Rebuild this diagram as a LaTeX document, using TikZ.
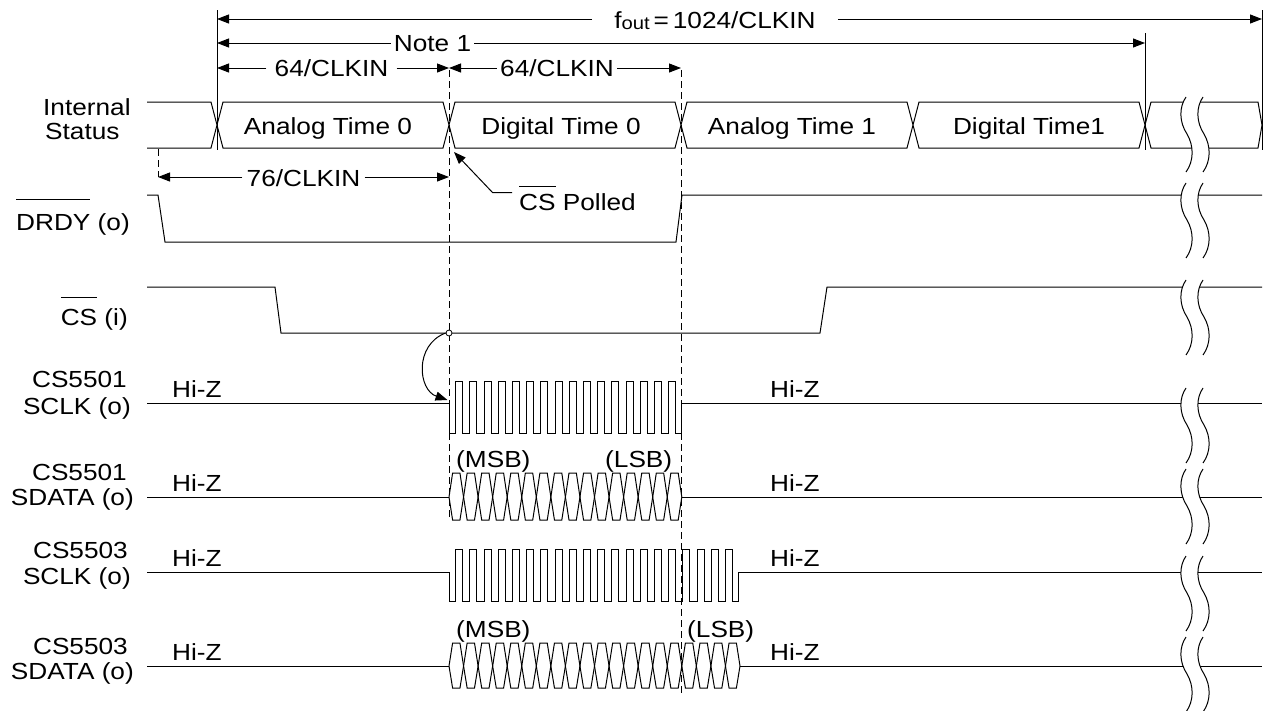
\documentclass[tikz,border=0pt]{standalone}
\usepackage{fontspec}
\setmainfont{Liberation Sans}[FakeStretch=1.125]
\usetikzlibrary{arrows.meta}
\newcommand\fs{\fontsize{23.3}{27}\selectfont}
\newlength\olw
\newcommand\myol[2]{\settowidth\olw{#2}\rlap{\rule[#1]{\olw}{1pt}}#2}
\newcommand\brk[1]{%
  \begin{scope}[shift={(1186,#1)}]
    \fill[white] (0,0) .. controls (-7,10) and (-7,25) .. (1,37) .. controls (8,49) and (8,64) .. (0,75)
      -- (17,75) .. controls (25,64) and (25,49) .. (18,37) .. controls (10,25) and (10,10) .. (17,0) -- cycle;
    \draw[sig] (0,0) .. controls (-7,10) and (-7,25) .. (1,37) .. controls (8,49) and (8,64) .. (0,75);
    \draw[sig] (17,0) .. controls (10,10) and (10,25) .. (18,37) .. controls (25,49) and (25,64) .. (17,75);
  \end{scope}}
\tikzset{
  sig/.style={line width=1pt, line join=miter},
  arr/.style={line width=1pt, -{Triangle[length=12pt,width=9pt]}},
  lbl/.style={font=\fs, inner sep=0pt},
  dsh/.style={line width=1pt, dash pattern=on 7pt off 4pt},
}
\begin{document}
\begin{tikzpicture}[x=1pt,y=-1pt]
\useasboundingbox (0,0) rectangle (1263,710);
% ---------- left labels
\node[lbl, anchor=base west] (l1a) at (43,115) {Internal};
\node[lbl, anchor=base west] (l1b) at (45,139) {Status};
\node[lbl, anchor=base east] (l2) at (130,230) {\myol{30pt}{DRDY} (o)};
\node[lbl, anchor=base east] (l3) at (128,325) {\myol{27pt}{CS} (i)};
\node[lbl, anchor=base east] (l4a) at (127,387) {CS5501};
\node[lbl, anchor=base east] (l4b) at (131,414) {SCLK (o)};
\node[lbl, anchor=base east] (l5a) at (127,480) {CS5501};
\node[lbl, anchor=base east] (l5b) at (134,505) {SDATA (o)};
\node[lbl, anchor=base east] (l6a) at (128,558) {CS5503};
\node[lbl, anchor=base east] (l6b) at (131,584) {SCLK (o)};
\node[lbl, anchor=base east] (l7a) at (128,654) {CS5503};
\node[lbl, anchor=base east] (l7b) at (134,679) {SDATA (o)};
% ---------- vertical reference lines
\draw[sig] (217,10) -- (217,150);
\draw[sig] (1145,33) -- (1145,150);
\draw[sig] (1262,10) -- (1262,150);
\draw[dsh] (449,70) -- (449,520);
\draw[dsh] (681,70) -- (681,693);
\draw[dsh] (158,149) -- (158,177);
% ---------- top dimension arrows
\coordinate (fa) at (217,19); \coordinate (fb) at (1262,19);
\node[lbl, anchor=base, inner xsep=22pt] (fo) at (715,28)
  {f\raisebox{-1.5pt}{\fontsize{18}{18}\selectfont out}\,=\,1024/CLKIN};
\draw[arr] (fo.west |- fa) -- (fa);
\draw[arr] (fo.east |- fb) -- (fb);
\coordinate (na) at (217,43); \coordinate (nb) at (1145,43);
\node[lbl, anchor=base, inner xsep=3pt] (n1) at (432.5,51.5) {Note 1};
\draw[arr] (n1.west |- na) -- (na);
\draw[arr] (n1.east |- nb) -- (nb);
\coordinate (aa) at (217,68); \coordinate (ab) at (449,68);
\node[lbl, anchor=base, inner xsep=8pt] (a1) at (331.5,76.5) {64/CLKIN};
\draw[arr] (a1.west |- aa) -- (aa);
\draw[arr] (a1.east |- ab) -- (ab);
\coordinate (ba) at (449,68); \coordinate (bb) at (681,68);
\node[lbl, anchor=base, inner xsep=3pt] (b1) at (557,76.5) {64/CLKIN};
\draw[arr] (b1.west |- ba) -- (ba);
\draw[arr] (b1.east |- bb) -- (bb);
\coordinate (ca) at (158,177); \coordinate (cb) at (449,177);
\node[lbl, anchor=base, inner xsep=4pt] (c1) at (303.5,186.5) {76/CLKIN};
\draw[arr] (c1.west |- ca) -- (ca);
\draw[arr] (c1.east |- cb) -- (cb);
% ---------- internal status bus
\draw[sig] (147,102) -- (211,102) -- (223,148) -- (443,148) -- (455,102) -- (675,102) -- (687,148)
  -- (907,148) -- (919,102) -- (1139,102) -- (1151,148) -- (1258,148) -- (1262,125) -- (1258,102)
  -- (1151,102) -- (1139,148) -- (919,148) -- (907,102) -- (687,102) -- (675,148) -- (455,148)
  -- (443,102) -- (223,102) -- (211,148) -- (147,148);
\node[lbl, anchor=base] (s1) at (328,134) {Analog Time 0};
\node[lbl, anchor=base] (s2) at (561,134) {Digital Time 0};
\node[lbl, anchor=base] (s3) at (792,134) {Analog Time 1};
\node[lbl, anchor=base] (s4) at (1029,134) {Digital Time1};
% ---------- DRDY
\draw[sig] (147,195) -- (158,195) -- (165,242) -- (676,242) -- (682,195) -- (1262,195);
\node[lbl, anchor=base west, inner xsep=7pt] (cp) at (512,210) {\myol{23pt}{CS} Polled};
\coordinate (lp) at (492.7,192.7); \coordinate (cpt) at (454,152);
\draw[arr] (cp.west |- lp) -- (lp) -- (cpt);
% ---------- CS
\draw[sig] (147,287) -- (275,287) -- (281,333) -- (820,333) -- (827,287) -- (1262,287);
% ---------- CS5501 SCLK
\draw[sig] (147,403) -- (449,403) -- (449,433)
  \foreach \k in {0,...,15}{ -- ({455.6+\k*14.2},433) -- ({455.6+\k*14.2},381) -- ({462.7+\k*14.2},381) -- ({462.7+\k*14.2},433)}
  -- (681.7,433) -- (681.7,403) -- (1262,403);
\node[circle, draw, fill=white, line width=0.8pt, inner sep=0pt, minimum size=6pt] (circ) at (449,333) {};
\coordinate (sk) at (447.5,400);
\draw[arr] (circ.west) .. controls (414,345) and (418,390) .. (sk);
% ---------- CS5501 SDATA
\draw[sig] (147,497) -- (449,497);
\foreach \k in {0,...,15}{
  \draw[sig] ({449+\k*14.55},497) -- ({452.6+\k*14.55},473) -- ({459.95+\k*14.55},473) -- ({463.55+\k*14.55},497)
    -- ({459.95+\k*14.55},520) -- ({452.6+\k*14.55},520) -- cycle;}
\draw[sig] (681.8,497) -- (1262,497);
% ---------- CS5503 SCLK
\draw[sig] (147,572) -- (449,572) -- (449,601)
  \foreach \k in {0,...,19}{ -- ({455.6+\k*14.2},601) -- ({455.6+\k*14.2},549) -- ({462.7+\k*14.2},549) -- ({462.7+\k*14.2},601)}
  -- (738.5,601) -- (738.5,572) -- (1262,572);
% ---------- CS5503 SDATA
\draw[sig] (147,666) -- (449,666);
\foreach \k in {0,...,19}{
  \draw[sig] ({449+\k*14.55},666) -- ({452.6+\k*14.55},643) -- ({459.95+\k*14.55},643) -- ({463.55+\k*14.55},666)
    -- ({459.95+\k*14.55},688) -- ({452.6+\k*14.55},688) -- cycle;}
\draw[sig] (740,666) -- (1262,666);
% ---------- Hi-Z and MSB/LSB labels
\node[lbl, anchor=base west] (h1) at (172,397) {Hi-Z};
\node[lbl, anchor=base west] (h2) at (770,397) {Hi-Z};
\node[lbl, anchor=base west] (h3) at (172,491) {Hi-Z};
\node[lbl, anchor=base west] (h4) at (770,491) {Hi-Z};
\node[lbl, anchor=base west] (h5) at (172,566) {Hi-Z};
\node[lbl, anchor=base west] (h6) at (770,566) {Hi-Z};
\node[lbl, anchor=base west] (h7) at (172,660) {Hi-Z};
\node[lbl, anchor=base west] (h8) at (770,660) {Hi-Z};
\node[lbl, anchor=base west] (m1) at (456,467) {(MSB)};
\node[lbl, anchor=base west] (m2) at (605,467) {(LSB)};
\node[lbl, anchor=base west] (m3) at (456,637.5) {(MSB)};
\node[lbl, anchor=base west] (m4) at (687,637.5) {(LSB)};
% ---------- breaks
\brk{97}
\brk{183}
\brk{280}
\brk{388}
\brk{469}
\brk{556}
\brk{637}
\end{tikzpicture}
\end{document}
